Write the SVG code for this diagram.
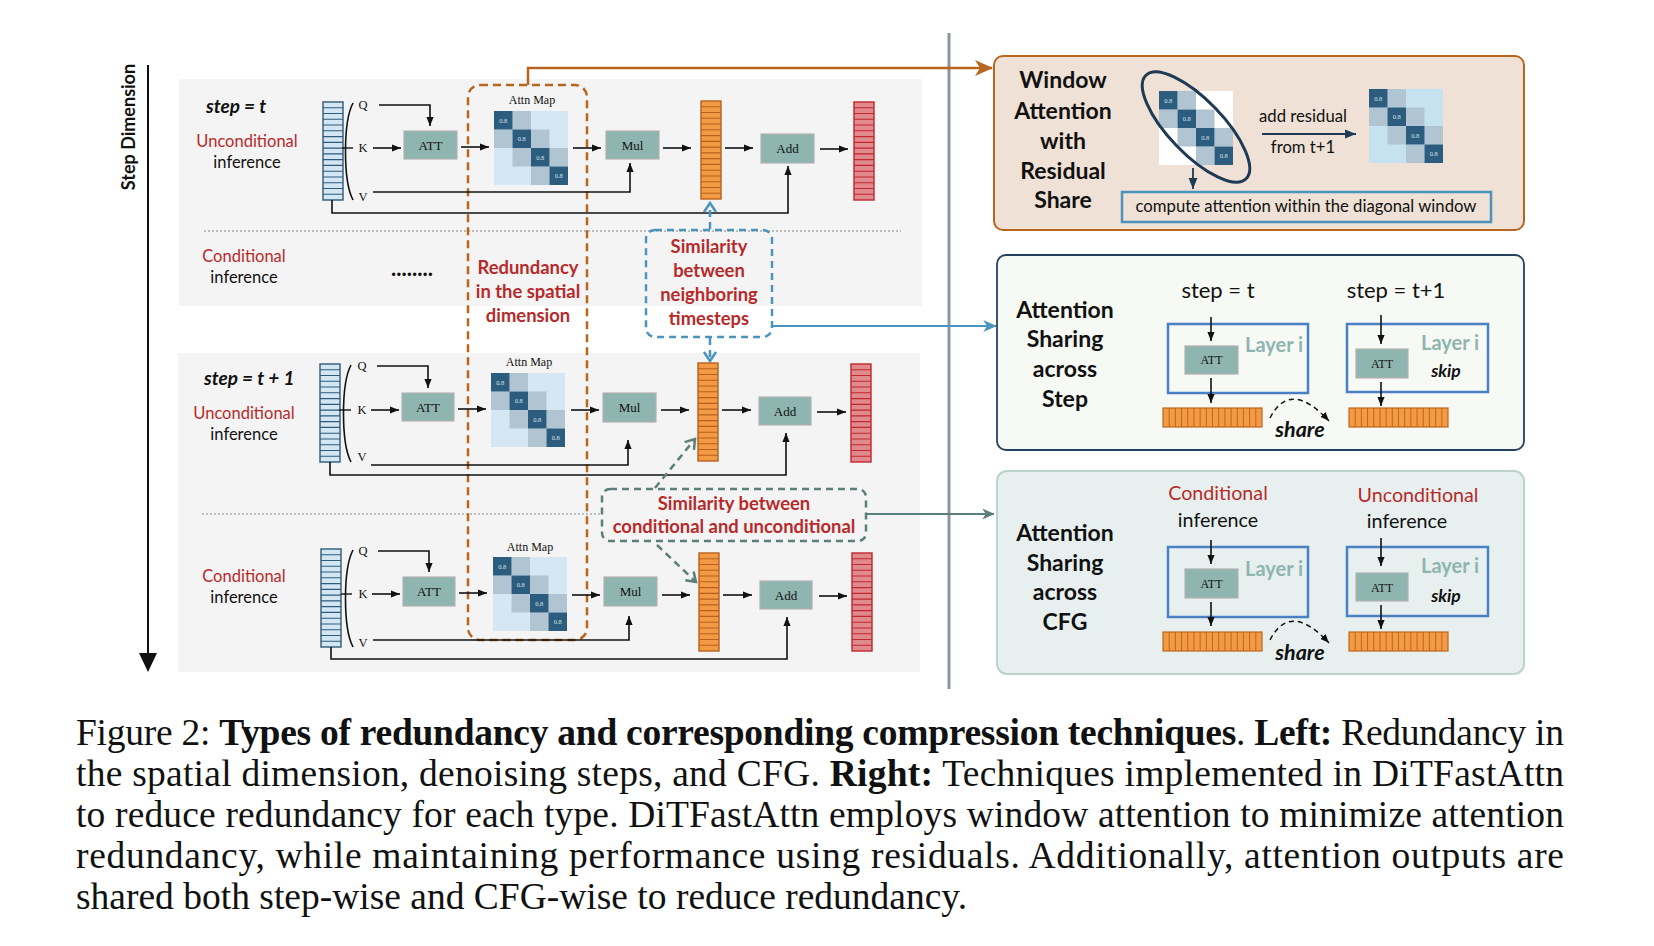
<svg xmlns="http://www.w3.org/2000/svg" xmlns:xlink="http://www.w3.org/1999/xlink" width="1654" height="946" viewBox="0 0 1654 946">
<style>
.sans{font-family:Lato,'Liberation Sans',sans-serif}
.serif{font-family:'Liberation Serif','Times New Roman',serif}
.b{font-weight:700}
.i{font-style:italic}
.red{fill:#b72a2a}
.blk{fill:#111}
.mid{text-anchor:middle}
.box{fill:#8fb5b0;stroke:#b3b3b3;stroke-width:1.2}
.ln{fill:none;stroke:#111;stroke-width:1.6}
.panel{fill:#f4f4f4}
.layer{fill:none;stroke:#4a80c4;stroke-width:2.5}
.lay{fill:#8fb5b0;font-weight:700;font-size:20px}
.big{font-size:23px;font-weight:700;fill:#111;text-anchor:middle}
.lbl{font-size:16.5px}
.qkv{font-size:12.5px;fill:#111;text-anchor:middle}
.bt{font-size:13px;fill:#111;text-anchor:middle}
.sim{font-size:18.4px;font-weight:700;fill:#b72a2a;text-anchor:middle}
.cap{font-family:'Liberation Serif','Times New Roman',serif;font-size:37.5px;fill:#111}
</style>
<defs>
<marker id="ah" viewBox="0 0 10 8" refX="10" refY="4" markerWidth="9" markerHeight="8" orient="auto" markerUnits="userSpaceOnUse"><path d="M0,0L10,4L0,8z" fill="#111"/></marker>
<marker id="ahN" viewBox="0 0 10 8" refX="10" refY="4" markerWidth="11" markerHeight="10" orient="auto" markerUnits="userSpaceOnUse"><path d="M0,0L10,4L0,8z" fill="#1e3a55"/></marker>
<marker id="ahO" viewBox="0 0 18 16" refX="17" refY="8" markerWidth="18" markerHeight="16" orient="auto" markerUnits="userSpaceOnUse"><path d="M0,0L18,8L0,16L5,8z" fill="#b8661f"/></marker>
<marker id="ahB" viewBox="0 0 18 16" refX="17" refY="8" markerWidth="14" markerHeight="12" orient="auto" markerUnits="userSpaceOnUse"><path d="M0,0L18,8L0,16L5,8z" fill="#4b94bd"/></marker>
<marker id="ahG" viewBox="0 0 18 16" refX="17" refY="8" markerWidth="13" markerHeight="11" orient="auto" markerUnits="userSpaceOnUse"><path d="M0,0L18,8L0,16L5,8z" fill="#5b7f7a"/></marker>
<marker id="chB" viewBox="-2 -2 14 16" refX="9" refY="6" markerWidth="14" markerHeight="16" orient="auto" markerUnits="userSpaceOnUse"><path d="M0,0L9,6L0,12" fill="none" stroke="#4b94bd" stroke-width="2.5" stroke-dasharray="none"/></marker>
<marker id="chG" viewBox="-2 -2 14 16" refX="9" refY="6" markerWidth="14" markerHeight="16" orient="auto" markerUnits="userSpaceOnUse"><path d="M0,0L9,6L0,12" fill="none" stroke="#5b7f7a" stroke-width="2.5" stroke-dasharray="none"/></marker>
<g id="vbarB"><rect x="0" y="0" width="20" height="98" fill="#d3e6f2" stroke="#2d5b7c" stroke-width="1.4"/><path d="M0 5.76h20M0 11.53h20M0 17.29h20M0 23.06h20M0 28.82h20M0 34.59h20M0 40.35h20M0 46.12h20M0 51.88h20M0 57.65h20M0 63.41h20M0 69.18h20M0 74.94h20M0 80.71h20M0 86.47h20M0 92.24h20" stroke="#2d5b7c" stroke-width="1.1"/></g>
<g id="vbarO"><rect x="0" y="0" width="20" height="98" fill="#f39a45" stroke="#b8601c" stroke-width="1.4"/><path d="M0 5.76h20M0 11.53h20M0 17.29h20M0 23.06h20M0 28.82h20M0 34.59h20M0 40.35h20M0 46.12h20M0 51.88h20M0 57.65h20M0 63.41h20M0 69.18h20M0 74.94h20M0 80.71h20M0 86.47h20M0 92.24h20" stroke="#b8601c" stroke-width="1.1"/></g>
<g id="vbarR"><rect x="0" y="0" width="20" height="98" fill="#e08a8e" stroke="#c0282d" stroke-width="1.4"/><path d="M0 5.76h20M0 11.53h20M0 17.29h20M0 23.06h20M0 28.82h20M0 34.59h20M0 40.35h20M0 46.12h20M0 51.88h20M0 57.65h20M0 63.41h20M0 69.18h20M0 74.94h20M0 80.71h20M0 86.47h20M0 92.24h20" stroke="#c0282d" stroke-width="1.1"/></g>
<g id="hbarO"><rect x="0" y="0" width="99" height="19" fill="#f39a45" stroke="#c0661f" stroke-width="1.2"/><path d="M6.19 0v19M12.38 0v19M18.56 0v19M24.75 0v19M30.94 0v19M37.13 0v19M43.31 0v19M49.5 0v19M55.69 0v19M61.88 0v19M68.06 0v19M74.25 0v19M80.44 0v19M86.63 0v19M92.81 0v19" stroke="#c0661f" stroke-width="1"/></g>
<g id="amBase">
<rect x="18.5" y="0" width="18.5" height="18.5" fill="#b1c4d2"/><rect x="0" y="18.5" width="18.5" height="18.5" fill="#b1c4d2"/><rect x="37" y="18.5" width="18.5" height="18.5" fill="#b1c4d2"/><rect x="18.5" y="37" width="18.5" height="18.5" fill="#b1c4d2"/><rect x="55.5" y="37" width="18.5" height="18.5" fill="#b1c4d2"/><rect x="37" y="55.5" width="18.5" height="18.5" fill="#b1c4d2"/>
<rect x="0" y="0" width="18.5" height="18.5" fill="#2c5d7f"/><rect x="18.5" y="18.5" width="18.5" height="18.5" fill="#2c5d7f"/><rect x="37" y="37" width="18.5" height="18.5" fill="#2c5d7f"/><rect x="55.5" y="55.5" width="18.5" height="18.5" fill="#2c5d7f"/>
<g font-family="'Liberation Serif',serif" font-size="6.5" fill="#d8e2ea" text-anchor="middle"><text x="9.25" y="11.5">0.8</text><text x="27.75" y="30">0.8</text><text x="46.25" y="48.5">0.8</text><text x="64.75" y="67">0.8</text></g>
</g>
</defs>

<rect width="1654" height="946" fill="#ffffff"/>

<!-- panels -->
<g id="panels">
<rect class="panel" x="179" y="79" width="743" height="227"/>
<rect class="panel" x="178" y="353" width="742" height="319"/>
<line x1="204" y1="231" x2="901" y2="231" stroke="#aaaaaa" stroke-width="1.3" stroke-dasharray="2,2"/>
<line x1="202" y1="514" x2="898" y2="514" stroke="#aaaaaa" stroke-width="1.3" stroke-dasharray="2,2"/>
<line x1="949" y1="33" x2="949" y2="689" stroke="#8a96a0" stroke-width="3"/>
</g>

<!-- step dimension axis -->
<g id="step-axis">
<line x1="148" y1="65" x2="148" y2="656" stroke="#111" stroke-width="2"/>
<path d="M139,653L157,653L148,672z" fill="#111"/>
<text class="sans b" font-size="18" fill="#111" text-anchor="middle" transform="translate(135,127) rotate(-90)">Step Dimension</text>
</g>

<!-- left labels -->
<g id="labels-left" class="sans">
<text x="206" y="113" class="b i blk" font-size="19">step = t</text>
<text x="247" y="147" class="lbl red mid">Unconditional</text>
<text x="247" y="168" class="lbl blk mid">inference</text>
<text x="244" y="262" class="lbl red mid">Conditional</text>
<text x="244" y="283" class="lbl blk mid">inference</text>
<text x="412" y="276" class="b blk mid" font-size="22">........</text>
<text x="204" y="385" class="b i blk" font-size="19">step = t + 1</text>
<text x="244" y="419" class="lbl red mid">Unconditional</text>
<text x="244" y="440" class="lbl blk mid">inference</text>
<text x="244" y="582" class="lbl red mid">Conditional</text>
<text x="244" y="603" class="lbl blk mid">inference</text>
</g>

<!-- row 1 -->
<g id="row1">
<use xlink:href="#vbarB" x="323" y="102"/>
<path class="ln" d="M353,103 C343,122 343,181 353,200"/>
<line x1="342" y1="148" x2="353" y2="148" stroke="#111" stroke-width="1.4"/>
<g class="serif"><text x="363" y="109" class="qkv">Q</text><text x="363" y="152" class="qkv">K</text><text x="363" y="201" class="qkv">V</text></g>
<rect class="box" x="404" y="131" width="53" height="28"/><text x="430.5" y="149.5" class="serif bt">ATT</text>
<text x="532" y="104" class="serif" font-size="12" fill="#111" text-anchor="middle">Attn Map</text>
<rect x="494" y="111" width="74" height="74" fill="#d6e7f4"/><use xlink:href="#amBase" x="494" y="111"/>
<rect class="box" x="606" y="131" width="53" height="28"/><text x="632.5" y="149.5" class="serif bt">Mul</text>
<use xlink:href="#vbarO" x="701" y="101"/>
<rect class="box" x="761" y="134" width="53" height="29"/><text x="787.5" y="153" class="serif bt">Add</text>
<use xlink:href="#vbarR" x="854" y="102"/>
</g>

<!-- row 2 -->
<g id="row2">
<use xlink:href="#vbarB" x="320" y="364"/>
<path class="ln" d="M351,365 C341,384 341,443 351,462"/>
<line x1="339" y1="410" x2="351" y2="410" stroke="#111" stroke-width="1.4"/>
<g class="serif"><text x="362" y="370" class="qkv">Q</text><text x="362" y="414" class="qkv">K</text><text x="362" y="461" class="qkv">V</text></g>
<rect class="box" x="402" y="393" width="52" height="28"/><text x="428" y="411.5" class="serif bt">ATT</text>
<text x="529" y="366" class="serif" font-size="12" fill="#111" text-anchor="middle">Attn Map</text>
<rect x="491" y="373" width="74" height="74" fill="#d6e7f4"/><use xlink:href="#amBase" x="491" y="373"/>
<rect class="box" x="603" y="393" width="53" height="29"/><text x="629.5" y="412" class="serif bt">Mul</text>
<use xlink:href="#vbarO" x="698" y="363"/>
<rect class="box" x="759" y="397" width="52" height="28"/><text x="785" y="415.5" class="serif bt">Add</text>
<use xlink:href="#vbarR" x="851" y="364"/>
</g>

<!-- row 3 -->
<g id="row3">
<use xlink:href="#vbarB" x="321" y="549"/>
<path class="ln" d="M353,550 C343,569 343,628 353,647"/>
<line x1="341" y1="594" x2="352" y2="594" stroke="#111" stroke-width="1.4"/>
<g class="serif"><text x="363" y="555" class="qkv">Q</text><text x="363" y="598" class="qkv">K</text><text x="363" y="647" class="qkv">V</text></g>
<rect class="box" x="403" y="577" width="52" height="29"/><text x="429" y="596" class="serif bt">ATT</text>
<text x="530" y="551" class="serif" font-size="12" fill="#111" text-anchor="middle">Attn Map</text>
<rect x="493" y="557" width="74" height="74" fill="#d6e7f4"/><use xlink:href="#amBase" x="493" y="557"/>
<rect class="box" x="604" y="577" width="53" height="29"/><text x="630.5" y="596" class="serif bt">Mul</text>
<use xlink:href="#vbarO" x="699" y="553"/>
<rect class="box" x="760" y="581" width="52" height="28"/><text x="786" y="599.5" class="serif bt">Add</text>
<use xlink:href="#vbarR" x="852" y="553"/>
</g>

<!-- annotation boxes -->
<g id="redundancy">
<rect x="468" y="85" width="119" height="555" rx="12" fill="none" stroke="#b8661f" stroke-width="2.5" stroke-dasharray="8,5"/>
<text class="sans sim" x="528" y="274">Redundancy</text>
<text class="sans sim" x="528" y="298">in the spatial</text>
<text class="sans sim" x="528" y="322">dimension</text>
</g>
<g id="similarity-steps">
<rect x="646" y="230" width="126" height="107" rx="9" fill="none" stroke="#4b94bd" stroke-width="2.5" stroke-dasharray="7,5"/>
<text class="sans sim" x="709" y="253">Similarity</text>
<text class="sans sim" x="709" y="277">between</text>
<text class="sans sim" x="709" y="301">neighboring</text>
<text class="sans sim" x="709" y="325">timesteps</text>
</g>
<g id="similarity-cfg">
<rect x="602" y="489" width="264" height="52" rx="8" fill="#f4f4f4" stroke="#5b7f7a" stroke-width="2.5" stroke-dasharray="7,5"/>
<text class="sans sim" x="734" y="510">Similarity between</text>
<text class="sans sim" x="734" y="533">conditional and unconditional</text>
</g>

<!-- connectors -->
<g id="connectors">
<path class="ln" d="M379,105H430V126" marker-end="url(#ah)"/>
<path class="ln" d="M373,148H401" marker-end="url(#ah)"/>
<path class="ln" d="M461,147H489" marker-end="url(#ah)"/>
<path class="ln" d="M573,148H601" marker-end="url(#ah)"/>
<path class="ln" d="M663,148H691" marker-end="url(#ah)"/>
<path class="ln" d="M725,148H753" marker-end="url(#ah)"/>
<path class="ln" d="M820,149H848" marker-end="url(#ah)"/>
<path class="ln" d="M373,192H630V163" marker-end="url(#ah)"/>
<path class="ln" d="M332,200V213H788V166" marker-end="url(#ah)"/>

<path class="ln" d="M377,366H428V388" marker-end="url(#ah)"/>
<path class="ln" d="M371,410H399" marker-end="url(#ah)"/>
<path class="ln" d="M458,409H486" marker-end="url(#ah)"/>
<path class="ln" d="M571,410H599" marker-end="url(#ah)"/>
<path class="ln" d="M661,410H689" marker-end="url(#ah)"/>
<path class="ln" d="M722,410H751" marker-end="url(#ah)"/>
<path class="ln" d="M817,412H846" marker-end="url(#ah)"/>
<path class="ln" d="M371,465H628V440" marker-end="url(#ah)"/>
<path class="ln" d="M330,462V475H786V433" marker-end="url(#ah)"/>

<path class="ln" d="M378,551H429V572" marker-end="url(#ah)"/>
<path class="ln" d="M372,594H400" marker-end="url(#ah)"/>
<path class="ln" d="M459,593H487" marker-end="url(#ah)"/>
<path class="ln" d="M572,595H600" marker-end="url(#ah)"/>
<path class="ln" d="M662,595H690" marker-end="url(#ah)"/>
<path class="ln" d="M723,595H752" marker-end="url(#ah)"/>
<path class="ln" d="M819,596H847" marker-end="url(#ah)"/>
<path class="ln" d="M373,640H629V616" marker-end="url(#ah)"/>
<path class="ln" d="M331,647V659H787V617" marker-end="url(#ah)"/>

<path d="M528,85V68H992" fill="none" stroke="#b8661f" stroke-width="2.5" marker-end="url(#ahO)"/>
<path d="M710,229V203" fill="none" stroke="#4b94bd" stroke-width="2.5" stroke-dasharray="7,5" marker-end="url(#chB)"/>
<path d="M710,338V361" fill="none" stroke="#4b94bd" stroke-width="2.5" stroke-dasharray="7,5" marker-end="url(#chB)"/>
<path d="M772,326H996" fill="none" stroke="#4b94bd" stroke-width="2" marker-end="url(#ahB)"/>
<path d="M655,488L695,439" fill="none" stroke="#5b7f7a" stroke-width="2.5" stroke-dasharray="7,5" marker-end="url(#chG)"/>
<path d="M657,545L696,582" fill="none" stroke="#5b7f7a" stroke-width="2.5" stroke-dasharray="7,5" marker-end="url(#chG)"/>
<path d="M866,514H994" fill="none" stroke="#5b7f7a" stroke-width="2" marker-end="url(#ahG)"/>
</g>

<!-- window attention box -->
<g id="window-attention">
<rect x="994" y="56" width="530" height="174" rx="9" fill="#efe1d5" stroke="#b8661f" stroke-width="2"/>
<text class="sans big" x="1063" y="88">Window</text>
<text class="sans big" x="1063" y="119">Attention</text>
<text class="sans big" x="1063" y="149">with</text>
<text class="sans big" x="1063" y="179">Residual</text>
<text class="sans big" x="1063" y="208">Share</text>
<g transform="translate(1159,91)"><rect x="0" y="0" width="74" height="74" fill="#ffffff"/><use xlink:href="#amBase"/></g>
<ellipse cx="1196" cy="127" rx="72" ry="27" transform="rotate(46 1196 127)" fill="none" stroke="#1e3a55" stroke-width="3"/>
<path d="M1193,168V189" fill="none" stroke="#1e3a55" stroke-width="1.8" marker-end="url(#ahN)"/>
<rect x="1122" y="192" width="369" height="30" fill="none" stroke="#4b94bd" stroke-width="2.5"/>
<text class="sans" x="1306" y="212" font-size="16.7" fill="#111" text-anchor="middle">compute attention within the diagonal window</text>
<text class="sans" x="1303" y="122" font-size="16.7" fill="#111" text-anchor="middle">add residual</text>
<text class="sans" x="1303" y="153" font-size="16.7" fill="#111" text-anchor="middle">from t+1</text>
<path d="M1262,134H1356" fill="none" stroke="#1e3a55" stroke-width="2" marker-end="url(#ahN)"/>
<g transform="translate(1369,89)"><rect x="0" y="0" width="74" height="74" fill="#c6e2f0"/><use xlink:href="#amBase"/></g>
</g>

<!-- attention sharing across step -->
<g id="share-step">
<rect x="997" y="255" width="527" height="195" rx="9" fill="#f7f9f4" stroke="#24425e" stroke-width="1.8"/>
<text class="sans big" x="1065" y="318">Attention</text>
<text class="sans big" x="1065" y="347">Sharing</text>
<text class="sans big" x="1065" y="377">across</text>
<text class="sans big" x="1065" y="407">Step</text>
<text class="sans" x="1218" y="298" font-size="22" fill="#111" text-anchor="middle">step = t</text>
<text class="sans" x="1396" y="298" font-size="22" fill="#111" text-anchor="middle">step = t+1</text>
<rect class="layer" x="1168" y="324" width="140" height="69"/>
<rect class="box" x="1185" y="346" width="53" height="28"/><text x="1211.5" y="364" class="serif" font-size="12" fill="#111" text-anchor="middle">ATT</text>
<text class="sans lay" x="1245" y="352">Layer i</text>
<path class="ln" d="M1211,317V341" marker-end="url(#ah)"/>
<path class="ln" d="M1211,378V403" marker-end="url(#ah)"/>
<use xlink:href="#hbarO" x="1163" y="408"/>
<path d="M1270,418Q1290,379 1329,421" fill="none" stroke="#111" stroke-width="1.5" stroke-dasharray="5,4" marker-end="url(#ah)"/>
<text class="sans b i" x="1300" y="437" font-size="21.5" fill="#111" text-anchor="middle">share</text>
<rect class="layer" x="1347" y="324" width="141" height="68"/>
<rect class="box" x="1356" y="349" width="52" height="29"/><text x="1382" y="367.5" class="serif" font-size="12" fill="#111" text-anchor="middle">ATT</text>
<text class="sans lay" x="1421" y="350">Layer i</text>
<text class="sans b i" x="1446" y="377" font-size="17.5" fill="#111" text-anchor="middle">skip</text>
<path class="ln" d="M1381,315V344" marker-end="url(#ah)"/>
<path class="ln" d="M1381,382V406" marker-end="url(#ah)"/>
<use xlink:href="#hbarO" x="1349" y="408"/>
</g>

<!-- attention sharing across CFG -->
<g id="share-cfg">
<rect x="997" y="471" width="527" height="203" rx="10" fill="#e7f0ef" stroke="#bcd2cf" stroke-width="2"/>
<text class="sans big" x="1065" y="541">Attention</text>
<text class="sans big" x="1065" y="571">Sharing</text>
<text class="sans big" x="1065" y="600">across</text>
<text class="sans big" x="1065" y="630">CFG</text>
<text class="sans red" x="1218" y="500" font-size="19.7" text-anchor="middle">Conditional</text>
<text class="sans" x="1218" y="527" font-size="19.7" fill="#111" text-anchor="middle">inference</text>
<text class="sans red" x="1418" y="502" font-size="19.7" text-anchor="middle">Unconditional</text>
<text class="sans" x="1407" y="528" font-size="19.7" fill="#111" text-anchor="middle">inference</text>
<rect class="layer" x="1168" y="547" width="140" height="70"/>
<rect class="box" x="1185" y="569" width="53" height="29"/><text x="1211.5" y="587.5" class="serif" font-size="12" fill="#111" text-anchor="middle">ATT</text>
<text class="sans lay" x="1245" y="576">Layer i</text>
<path class="ln" d="M1211,540V564" marker-end="url(#ah)"/>
<path class="ln" d="M1211,602V626" marker-end="url(#ah)"/>
<use xlink:href="#hbarO" x="1163" y="632"/>
<path d="M1270,640Q1290,601 1329,643" fill="none" stroke="#111" stroke-width="1.5" stroke-dasharray="5,4" marker-end="url(#ah)"/>
<text class="sans b i" x="1300" y="660" font-size="21.5" fill="#111" text-anchor="middle">share</text>
<rect class="layer" x="1347" y="547" width="141" height="69"/>
<rect class="box" x="1356" y="573" width="52" height="28"/><text x="1382" y="591.5" class="serif" font-size="12" fill="#111" text-anchor="middle">ATT</text>
<text class="sans lay" x="1421" y="573">Layer i</text>
<text class="sans b i" x="1446" y="602" font-size="17.5" fill="#111" text-anchor="middle">skip</text>
<path class="ln" d="M1381,538V566" marker-end="url(#ah)"/>
<path class="ln" d="M1381,605V629" marker-end="url(#ah)"/>
<use xlink:href="#hbarO" x="1349" y="632"/>
</g>

<!-- caption -->
<g id="caption">
<text class="cap" x="76" y="745" textLength="1488" lengthAdjust="spacing">Figure 2: <tspan font-weight="700">Types of redundancy and corresponding compression techniques</tspan>. <tspan font-weight="700">Left:</tspan> Redundancy in</text>
<text class="cap" x="76" y="786" textLength="1488" lengthAdjust="spacing">the spatial dimension, denoising steps, and CFG. <tspan font-weight="700">Right:</tspan> Techniques implemented in DiTFastAttn</text>
<text class="cap" x="76" y="827" textLength="1488" lengthAdjust="spacing">to reduce redundancy for each type. DiTFastAttn employs window attention to minimize attention</text>
<text class="cap" x="76" y="868" textLength="1488" lengthAdjust="spacing">redundancy, while maintaining performance using residuals. Additionally, attention outputs are</text>
<text class="cap" x="76" y="909">shared both step-wise and CFG-wise to reduce redundancy.</text>
</g>
</svg>
